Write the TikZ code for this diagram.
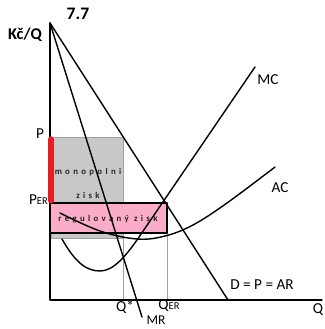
\documentclass[tikz,border=0pt]{standalone}
\usepackage{fontspec}
\setmainfont{Carlito}
\usetikzlibrary{positioning}
\definecolor{profitgrey}{RGB}{200,200,200}
\definecolor{guidegrey}{RGB}{160,160,160}
\definecolor{profitpink}{RGB}{250,172,200}
\definecolor{pricered}{RGB}{232,28,36}
\definecolor{smalltext}{RGB}{35,35,35}
\newcommand{\smallsub}[1]{{\fontsize{9}{10}\selectfont #1}}

\begin{document}
\begin{tikzpicture}[x=0.03cm,y=-0.03cm,line cap=round,line join=round,
  curve/.style={black,line width=1.2pt},
  lbl/.style={font=\fontsize{13}{15}\selectfont,inner sep=0pt},
  spaced/.style={font=\fontsize{7.5}{8}\selectfont\bfseries\addfontfeature{LetterSpace=38},text=smalltext,inner sep=0pt}]
\useasboundingbox (0,0) rectangle (324,329);
\coordinate (O) at (50,300);
\coordinate (T) at (50,23);
\coordinate (E) at (322,300);
\coordinate (Dend) at (228,300);
\coordinate (MRend) at (142,317);
% profit areas
\filldraw[fill=profitgrey,draw=guidegrey,line width=.6pt] (51,137) rectangle (123,238);
\fill[profitpink] (50,203) rectangle (167,233);
\draw[guidegrey,line width=.8pt] (123,238)--(123,300);
\draw[guidegrey,line width=.8pt] (167,233)--(167,300);
\node[spaced] (mono) at (88,172) {monopolni};
\node[spaced] (zisk) at (88,195) {zisk};
\node[spaced] (reg) at (108,219) {regulovaný zisk};
% axes
\draw[black,line width=1.1pt] (T)--(O)--(E);
% curves
\draw[curve] (T)--(Dend);
\draw[curve] (T)--(MRend);
\draw[curve] (62,239) .. controls (75,262) and (86,271) .. (100,271)
  .. controls (113,271) and (125,257) .. (137,240) -- (255,67);
\draw[curve] plot[smooth,tension=0.6] coordinates
  {(60,213) (100,231) (137,239) (165,236) (193,225) (227,203) (275,167)};
\draw[black,line width=1.5pt] (50,203) rectangle (167,233);
\draw[pricered,line width=4.5pt] (51,139)--(51,201);
% labels
\node[font=\fontsize{15}{17}\selectfont\bfseries,inner sep=0pt] (num) at (78,14) {7.7};
\node[font=\fontsize{14}{16}\selectfont\bfseries,inner sep=0pt] (yaxis) at (25,35) {Kč/Q};
\node[lbl] (p) at (40,134) {P};
\node[lbl,anchor=east] (per) at (48,200) {P\smallsub{ER}};
\node[lbl] (qstar) at (125,307) {Q*};
\node[lbl] (qer) at (169,306) {Q\smallsub{ER}};
\node[lbl,font=\fontsize{11.5}{13}\selectfont] (mr) at (156,320) {MR};
\node[lbl] (q) at (318,310) {Q};
\node[lbl] (dlab) at (262,285) {D = P = AR};
\node[lbl] (mc) at (268,80) {MC};
\node[lbl] (ac) at (280,188) {AC};
\end{tikzpicture}
\end{document}
